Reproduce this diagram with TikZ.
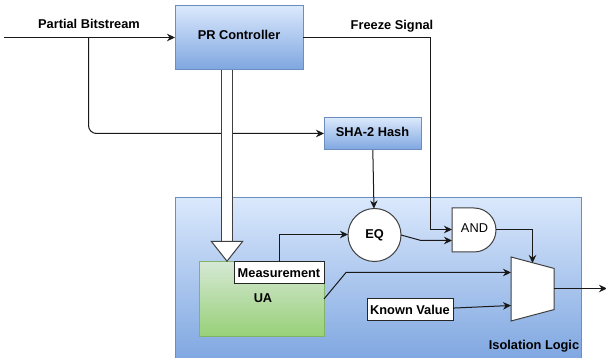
\documentclass[tikz,border=0pt]{standalone}
\usepackage{fontspec}
\setmainfont{Liberation Sans}
\usetikzlibrary{arrows.meta,shapes.geometric,shapes.misc}
\definecolor{bluetop}{HTML}{DAE8FC}
\definecolor{bluebot}{HTML}{7EA6E0}
\definecolor{blueline}{HTML}{6C8EBF}
\definecolor{greentop}{HTML}{D5E8D4}
\definecolor{greenbot}{HTML}{97D077}
\definecolor{greenline}{HTML}{82B366}
\tikzset{
  lbl/.style={font=\fontsize{12.8}{14}\selectfont\bfseries, inner sep=0pt},
  bluebox/.style={draw=blueline, line width=1pt, top color=bluetop, bottom color=bluebot, outer sep=0pt, lbl},
  greenbox/.style={draw=greenline, line width=1pt, top color=greentop, bottom color=greenbot, outer sep=0pt, lbl},
  whitebox/.style={draw=black!85, line width=1pt, fill=white, outer sep=0pt, lbl},
  wire/.style={draw=black!90, line width=1pt, -{Stealth[length=8pt,width=7.5pt]}},
  hollow/.style={draw=black!75, line width=1pt, double=white, double distance=10pt,
    -{Triangle[open,fill=white,length=21pt,width=33pt]}},
}
\begin{document}
\begin{tikzpicture}[x=1pt,y=-1pt]
\useasboundingbox (0,0) rectangle (606,358);
\node[bluebox, minimum width=406pt, minimum height=164pt] (iso) at (378,280){};
\node[bluebox, minimum width=128pt, minimum height=64pt, text depth=6pt] (pr) at (239,38){PR Controller};
\node[bluebox, minimum width=97pt, minimum height=32pt, text depth=4pt] (sha) at (372.5,134){SHA-2 Hash};
\node[greenbox, minimum width=125pt, minimum height=75pt] (ua) at (261.5,299.5){};
\node[lbl] (ualbl) at (263,298){UA};
\node[whitebox, minimum width=90pt, minimum height=22pt] (meas) at (279,273){Measurement};
\node[whitebox, minimum width=86pt, minimum height=22pt] (known) at (410,310){Known Value};
\node[circle, draw=black!75, line width=1pt, fill=white, minimum size=53pt, outer sep=0pt, lbl] (eq) at (374.5,235){EQ};
\node[rounded rectangle, rounded rectangle west arc=none, draw=black!75, line width=1pt, fill=white, minimum width=44pt, minimum height=44pt, inner sep=1pt, outer sep=0pt] (andg) at (474,230){};
\node[font=\fontsize{12.8}{14}\selectfont, inner sep=0pt] (andlbl) at (474.5,228){AND};
\node[trapezium, draw=black!75, line width=1pt, fill=white, shape border rotate=270, trapezium stretches=true, trapezium left angle=74.5, trapezium right angle=74.5, minimum height=43pt, minimum width=64pt, inner sep=1pt, outer sep=0pt] (mux) at (532.5,289){};
\node[lbl] (bits) at (89,24){Partial Bitstream};
\node[lbl, fill=white, inner xsep=1pt, inner ysep=2pt] (freeze) at (392,26){Freeze Signal};
\node[lbl] (isolbl) at (534,346){Isolation Logic};
\coordinate (start) at (4,37.5);
\coordinate (prin) at (175,37.5);
\coordinate (tap) at (88.5,37.5);
\coordinate (turn) at (88.5,133.5);
\coordinate (shain) at (324,133.5);
\coordinate (frz0) at (303,37.5);
\coordinate (frz1) at (430.5,37.5);
\coordinate (frz2) at (430.5,229.5);
\coordinate (and1) at (452,229.5);
\coordinate (bend) at (421,240.5);
\coordinate (and2) at (452,240.5);
\coordinate (ueq) at (279.5,262);
\coordinate (ueq1) at (279.5,234.5);
\coordinate (eqin) at (348,234.5);
\coordinate (uaout) at (324,299);
\coordinate (uabend) at (346,272.5);
\coordinate (mux1) at (511,272.5);
\coordinate (mux2) at (511,305.5);
\coordinate (andout) at (496,229.5);
\coordinate (andbend) at (532.5,229.5);
\coordinate (muxsel) at (532.5,263);
\coordinate (muxout) at (554,288.5);
\coordinate (out) at (607,288.5);
\coordinate (loadtop) at (227,70);
\coordinate (loadtip) at (227,262);
\draw[wire](start) -- (prin);
\draw[wire, rounded corners=8pt](tap) -- (turn) -- (shain);
\draw[wire](frz0) -- (frz1) -- (frz2) -- (and1);
\draw[wire](sha) -- (eq);
\draw[wire](ueq) -- (ueq1) -- (eqin);
\draw[wire](eq.east) -- (bend) -- (and2);
\draw[wire](andout) -- (andbend) -- (muxsel);
\draw[wire](uaout) -- (uabend) -- (mux1);
\draw[wire](known) -- (mux2);
\draw[wire](muxout) -- (out);
\draw[hollow](loadtop) -- (loadtip);
\end{tikzpicture}
\end{document}
